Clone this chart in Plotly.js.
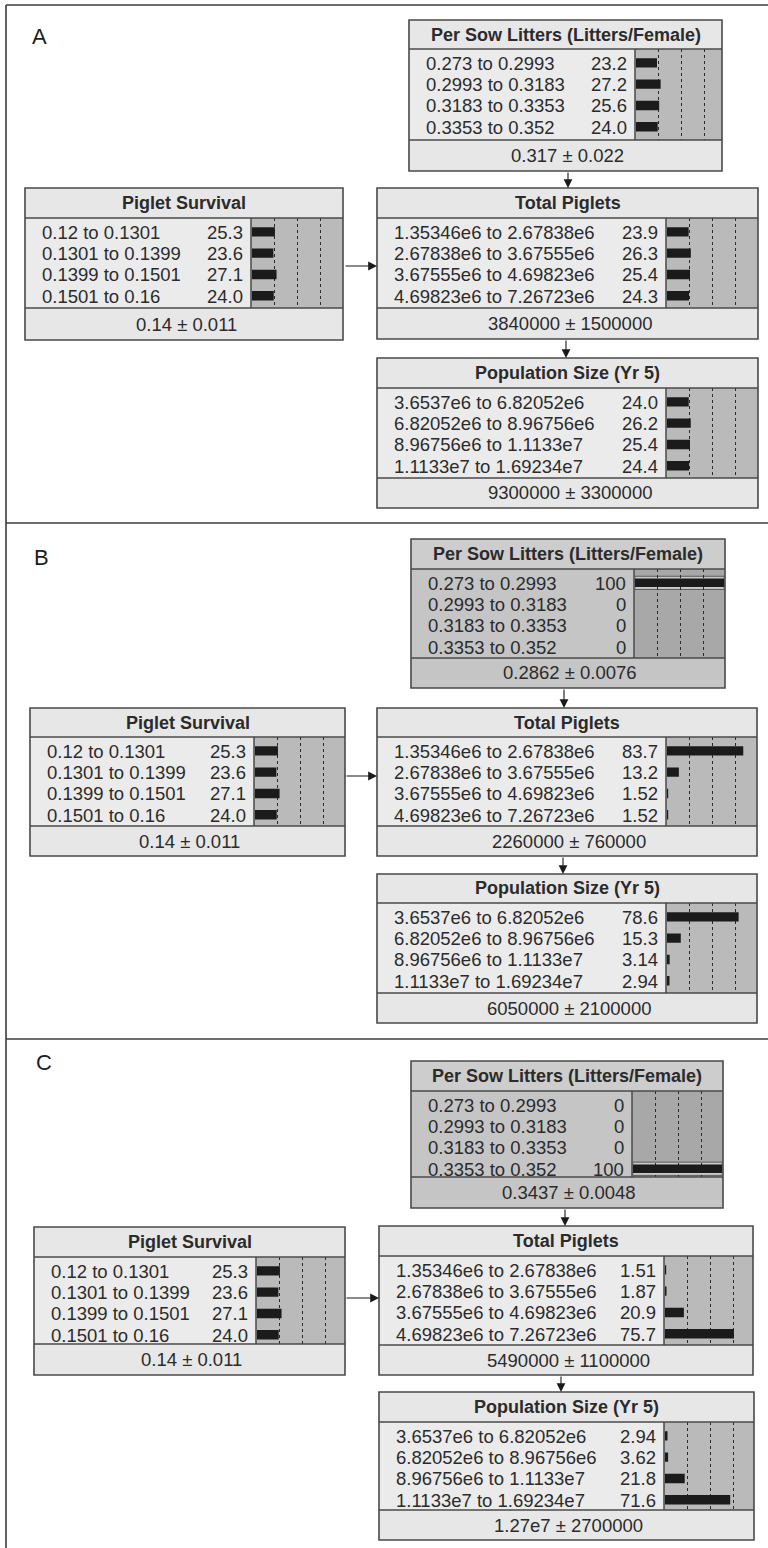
<!DOCTYPE html>
<html>
<head>
<meta charset="utf-8">
<script src="https://cdn.plot.ly/plotly-3.0.1.min.js"></script>
<style>html,body{margin:0;padding:0;background:#fff;}#chart{width:768px;height:1548px;}</style>
</head>
<body>
<div id="chart"></div>
<script>
// ---------------- DATA ----------------
const panelNames = ['A', 'B', 'C'];

const survivalTitle = 'Piglet Survival';
const survivalStates = ['0.12 to 0.1301', '0.1301 to 0.1399', '0.1399 to 0.1501', '0.1501 to 0.16'];
const survivalA = [25.3, 23.6, 27.1, 24.0];
const survivalB = [25.3, 23.6, 27.1, 24.0];
const survivalC = [25.3, 23.6, 27.1, 24.0];
const survivalFooter = ['0.14 ± 0.011', '0.14 ± 0.011', '0.14 ± 0.011'];

const littersTitle = 'Per Sow Litters (Litters/Female)';
const littersStates = ['0.273 to 0.2993', '0.2993 to 0.3183', '0.3183 to 0.3353', '0.3353 to 0.352'];
const littersA = [23.2, 27.2, 25.6, 24.0];
const littersB = [100, 0, 0, 0];
const littersC = [0, 0, 0, 100];
const littersFooter = ['0.317 ± 0.022', '0.2862 ± 0.0076', '0.3437 ± 0.0048'];

const pigletsTitle = 'Total Piglets';
const pigletsStates = ['1.35346e6 to 2.67838e6', '2.67838e6 to 3.67555e6', '3.67555e6 to 4.69823e6', '4.69823e6 to 7.26723e6'];
const pigletsA = [23.9, 26.3, 25.4, 24.3];
const pigletsB = [83.7, 13.2, 1.52, 1.52];
const pigletsC = [1.51, 1.87, 20.9, 75.7];
const pigletsFooter = ['3840000 ± 1500000', '2260000 ± 760000', '5490000 ± 1100000'];

const popTitle = 'Population Size (Yr 5)';
const popStates = ['3.6537e6 to 6.82052e6', '6.82052e6 to 8.96756e6', '8.96756e6 to 1.1133e7', '1.1133e7 to 1.69234e7'];
const popA = [24.0, 26.2, 25.4, 24.4];
const popB = [78.6, 15.3, 3.14, 2.94];
const popC = [2.94, 3.62, 21.8, 71.6];
const popFooter = ['9300000 ± 3300000', '6050000 ± 2100000', '1.27e7 ± 2700000'];

const gridTicks = [25, 50, 75];

// ---------------- LAYOUT GEOMETRY (pixels) ----------------
const W = 768, H = 1548;
const px = x => x / W;
const py = y => 1 - y / H;
// [left, right, top, titleBottom, rowsBottom, footerBottom, barAreaLeft]
const geom = {
  A: {
    litters:  [409, 722, 20, 49, 140, 171, 635],
    survival: [25, 343, 188, 218, 308, 340, 251],
    piglets:  [377, 758, 188, 218, 308, 339, 666],
    pop:      [377, 758, 358, 388, 478, 508, 666],
    arrows: [[568, 171, 568, 188], [566, 339, 566, 358], [344, 266, 377, 266]],
    label: [39.5, 36.5]
  },
  B: {
    litters:  [411, 725, 539, 569, 658, 688, 634],
    survival: [30, 345, 708, 737, 826, 856, 254],
    piglets:  [377, 757, 708, 737, 826, 856, 666],
    pop:      [377, 757, 874, 903, 993, 1023, 666],
    arrows: [[564, 688, 564, 708], [563, 856, 563, 874], [345, 776, 377, 776]],
    label: [41, 557]
  },
  C: {
    litters:  [411, 723, 1061, 1091, 1177, 1208, 632],
    survival: [34, 345, 1227, 1257, 1344, 1375, 256],
    piglets:  [379, 753, 1226, 1256, 1345, 1375, 664],
    pop:      [379, 754, 1392, 1422, 1510, 1540, 664],
    arrows: [[565, 1208, 565, 1226], [561, 1375, 561, 1392], [345, 1298, 379, 1298]],
    label: [44, 1062]
  }
};

const panelData = {
  A: {survival: survivalA, litters: littersA, piglets: pigletsA, pop: popA},
  B: {survival: survivalB, litters: littersB, piglets: pigletsB, pop: popB},
  C: {survival: survivalC, litters: littersC, piglets: pigletsC, pop: popC}
};
const nodeDefs = {
  survival: {title: survivalTitle, states: survivalStates, footer: survivalFooter},
  litters:  {title: littersTitle,  states: littersStates,  footer: littersFooter},
  piglets:  {title: pigletsTitle,  states: pigletsStates,  footer: pigletsFooter},
  pop:      {title: popTitle,      states: popStates,      footer: popFooter}
};
const observed = {B: 'litters', C: 'litters'};

const FONT = 'Liberation Sans, Arial, Helvetica, sans-serif';
const TXT = '#2b2b2b';
const BORDER = '#4a4a4a';
const PX_PER_PCT = 0.93;
const ROW_PAD = 3.2, ROW_PITCH = 21.3;

const normalCol = {title: '#e7e7e7', rows: '#ebebeb', area: '#bababa', foot: '#e7e7e7'};
const obsCol = {title: '#cdcdcd', rows: '#c5c5c5', area: '#a8a8a8', foot: '#c5c5c5'};

function fmt(v) {
  if (v === 0) return '0';
  if (v === 100) return '100';
  return v.toPrecision(3);
}

const traces = [];
const shapes = [];
const annotations = [];
const layout = {
  width: W, height: H,
  margin: {l: 0, r: 0, t: 0, b: 0, pad: 0},
  paper_bgcolor: '#ffffff',
  plot_bgcolor: 'rgba(0,0,0,0)',
  showlegend: false,
  font: {family: FONT, color: TXT}
};

// outer frame and panel separators
const frameLine = {color: '#3c3c3c', width: 1.6};
shapes.push({type: 'line', xref: 'paper', yref: 'paper', x0: px(6), x1: px(6), y0: py(5), y1: py(1548), line: frameLine, layer: 'above'});
shapes.push({type: 'line', xref: 'paper', yref: 'paper', x0: px(6), x1: px(768), y0: py(5), y1: py(5), line: frameLine, layer: 'above'});
shapes.push({type: 'line', xref: 'paper', yref: 'paper', x0: px(6), x1: px(768), y0: py(523), y1: py(523), line: frameLine, layer: 'above'});
shapes.push({type: 'line', xref: 'paper', yref: 'paper', x0: px(6), x1: px(768), y0: py(1039), y1: py(1039), line: frameLine, layer: 'above'});

let ax = 0;
panelNames.forEach((pn, pi) => {
  const g = geom[pn];
  annotations.push({xref: 'paper', yref: 'paper', x: px(g.label[0]), y: py(g.label[1]), text: pn,
    showarrow: false, xanchor: 'center', yanchor: 'middle', font: {size: 22, family: FONT, color: '#1e1e1e'}});

  ['litters', 'survival', 'piglets', 'pop'].forEach(key => {
    ax += 1;
    const [L, R, T, TB, RB, FB, AL] = g[key];
    const def = nodeDefs[key];
    const vals = panelData[pn][key];
    const isObs = observed[pn] === key;
    const col = isObs ? obsCol : normalCol;
    const xa = 'xaxis' + ax, ya = 'yaxis' + ax;
    const xr = 'x' + ax, yr = 'y' + ax;

    // fills
    const fill = (x0, x1, y0, y1, c) => shapes.push({type: 'rect', xref: 'paper', yref: 'paper',
      x0: px(x0), x1: px(x1), y0: py(y1), y1: py(y0), fillcolor: c, line: {width: 0}, layer: 'below'});
    fill(L, R, T, TB, col.title);
    fill(L, AL, TB, RB, col.rows);
    fill(AL, R, TB, RB, col.area);
    fill(L, R, RB, FB, col.foot);

    // borders
    const ln = (x0, y0, x1, y1) => shapes.push({type: 'line', xref: 'paper', yref: 'paper',
      x0: px(x0), x1: px(x1), y0: py(y0), y1: py(y1), line: {color: BORDER, width: 1.5}, layer: 'above'});
    shapes.push({type: 'rect', xref: 'paper', yref: 'paper', x0: px(L), x1: px(R), y0: py(FB), y1: py(T),
      line: {color: BORDER, width: 1.6}, fillcolor: 'rgba(0,0,0,0)', layer: 'above'});
    ln(L, TB, R, TB);
    ln(L, RB, R, RB);
    ln(AL, TB, AL, RB);

    // axes for bar area
    const h = RB - TB;
    const top = -(ROW_PAD + ROW_PITCH / 2) / ROW_PITCH;
    const bottom = (h - ROW_PAD - ROW_PITCH / 2) / ROW_PITCH;
    layout[xa] = {
      domain: [px(AL + 0.8), px(R - 0.8)], anchor: yr,
      range: [0, (R - AL) / PX_PER_PCT],
      showgrid: true, tickvals: gridTicks, gridcolor: '#2a2a2a', gridwidth: 1, griddash: 'dot',
      showticklabels: false, ticks: '', zeroline: false, showline: false, fixedrange: true
    };
    layout[ya] = {
      domain: [py(RB), py(TB)], anchor: xr, type: 'category',
      range: [bottom, top],
      showgrid: false, showticklabels: false, ticks: '', zeroline: false, showline: false, fixedrange: true
    };

    // finding band for observed state
    if (isObs) {
      vals.forEach((v, i) => {
        if (v === 100) {
          shapes.push({type: 'rect', xref: xr, yref: yr, x0: 0, x1: (R - AL) / PX_PER_PCT,
            y0: i - 0.31, y1: i + 0.31, fillcolor: '#c9c9c9', line: {color: '#5a5a5a', width: 1}, layer: 'below'});
        }
      });
    }

    traces.push({
      type: 'bar', orientation: 'h', x: vals, y: def.states,
      xaxis: xr, yaxis: yr, width: isObs ? 0.4 : 0.44,
      marker: {color: '#1b1b1b', line: {width: 0}}, hoverinfo: 'skip'
    });

    // title
    annotations.push({xref: 'paper', yref: 'paper', x: px((L + R) / 2), y: py((T + TB) / 2), text: '<b>' + def.title + '</b>',
      showarrow: false, xanchor: 'center', yanchor: 'middle', font: {size: 18, family: FONT, color: TXT}});
    // footer
    annotations.push({xref: 'paper', yref: 'paper', x: px((L + R) / 2 + 2), y: py((RB + FB) / 2), text: def.footer[pi],
      showarrow: false, xanchor: 'center', yanchor: 'middle', font: {size: 18.5, family: FONT, color: TXT}});
    // state labels and values
    def.states.forEach((s, i) => {
      annotations.push({xref: 'paper', yref: yr, x: px(L + 15), y: i, text: s, showarrow: false,
        xanchor: 'left', yanchor: 'middle', yshift: -0.5, font: {size: 18.5, family: FONT, color: TXT}});
      annotations.push({xref: 'paper', yref: yr, x: px(AL - 6), y: i, text: fmt(vals[i]), showarrow: false,
        xanchor: 'right', yanchor: 'middle', yshift: -0.5, font: {size: 18.5, family: FONT, color: TXT}});
    });
  });

  // arrows
  g.arrows.forEach(a => {
    const [x0, y0, x1, y1] = a;
    annotations.push({xref: 'paper', yref: 'paper', x: px(x1), y: py(y1), ax: x0 - x1, ay: y0 - y1,
      axref: 'pixel', ayref: 'pixel', text: '', showarrow: true, arrowhead: 2, arrowsize: 1.6,
      arrowwidth: 1.1, arrowcolor: '#1a1a1a', standoff: 0, startstandoff: 0});
  });
});

layout.shapes = shapes;
layout.annotations = annotations;

Plotly.newPlot('chart', traces, layout, {staticPlot: true, displayModeBar: false});
</script>
</body>
</html>
